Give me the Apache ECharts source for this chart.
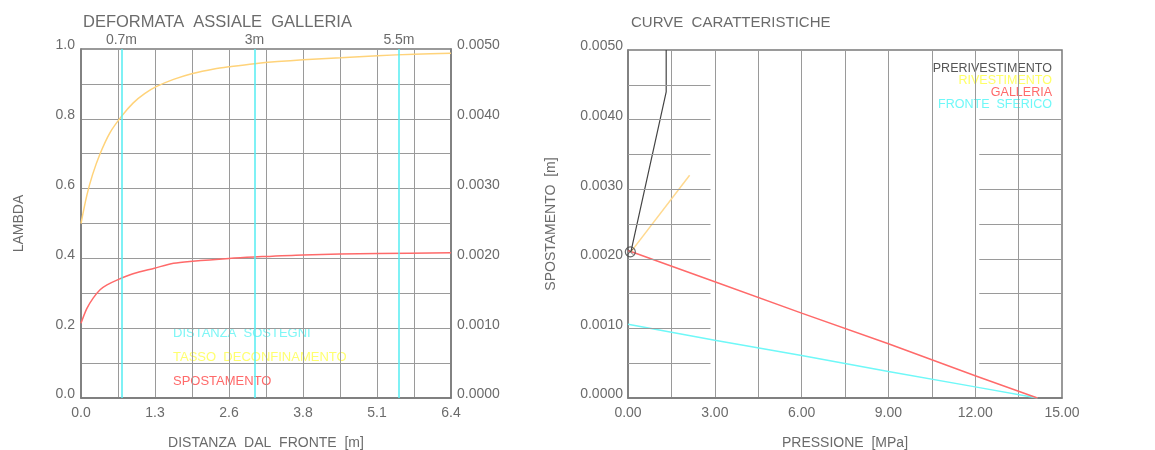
<!DOCTYPE html>
<html>
<head>
<meta charset="utf-8">
<script src="https://cdn.jsdelivr.net/npm/echarts@6/dist/echarts.min.js"></script>
<style>
  html, body { margin: 0; padding: 0; background: #fff; }
  #chart { width: 1155px; height: 450px; }
</style>
</head>
<body>
<div id="chart"></div>
<script>
// deformata assiale: distanza dal fronte [m]
var distanza = [0, 0.1, 0.2, 0.33, 0.5, 0.7, 0.9, 1.1, 1.3, 1.6, 1.93, 2.3, 2.6, 3.0, 3.4, 3.84, 4.49, 5.13, 5.77, 6.4];
var lambda   = [0.50, 0.58, 0.64, 0.70, 0.76, 0.807, 0.845, 0.872, 0.892, 0.913, 0.930, 0.943, 0.950, 0.958, 0.964, 0.969, 0.975, 0.981, 0.985, 0.988];
var distSpost   = [0, 0.1, 0.21, 0.33, 0.45, 0.65, 0.9, 1.27, 1.6, 1.93, 2.56, 3.0, 3.84, 5.13, 6.4];
var spostamento = [0.00107, 0.00128, 0.00143, 0.00155, 0.00162, 0.00170, 0.00178, 0.00186, 0.00193, 0.00196, 0.00200, 0.00202, 0.00205, 0.00207, 0.00208];
var sostegni = [0.7, 3, 5.5];
var sostegniLabel = ['0.7m', '3m', '5.5m'];

// curve caratteristiche: pressione [MPa] / spostamento [m]
var prerivP = [0.1, 1.32, 1.32];
var prerivU = [0.0021, 0.0044, 0.0050];
var rivP = [0.1, 2.13];
var rivU = [0.0021, 0.0032];
var galleriaP = [0, 3, 6, 9, 12, 14.15];
var galleriaU = [0.00212, 0.00167, 0.00122, 0.00078, 0.00032, 0];
var fronteP = [0, 3, 6, 9, 12, 14.15];
var fronteU = [0.00106, 0.00083, 0.00061, 0.00038, 0.00016, 0];
var equilP = [0.08];
var equilU = [0.0021];
var gridU = [0.0005, 0.0010, 0.0015, 0.0020, 0.0025, 0.0030, 0.0035, 0.0040, 0.0045];

function pairs(xs, ys) {
    return xs.map(function (x, i) { return [x, ys[i]]; });
}

var FONT = 'Liberation Sans';
var TXT = '#6b6b6b';
var GRIDC = '#9a9a9a';
var BORDER = '#7a7a7a';

var myChart = echarts.init(document.getElementById('chart'));

// pezzi di griglia orizzontale (interrotta al centro)
var gridSegs = [];
gridU.forEach(function (u, i) {
    gridSegs.push([{ coord: [0, u] }, { coord: [2.85, u] }]);
    if (i < gridU.length - 1) gridSegs.push([{ coord: [12.14, u] }, { coord: [15, u] }]);
});

var axisLbl = { color: TXT, fontFamily: FONT, fontSize: 14 };
var nameStyle = { color: TXT, fontFamily: FONT, fontSize: 14 };
// etichette y leggermente sopra la linea
var yLbl = Object.assign({ verticalAlign: 'bottom', lineHeight: 7 }, axisLbl);

option = {
    animation: false,
    textStyle: { fontFamily: FONT },
    title: [
        { text: 'DEFORMATA  ASSIALE  GALLERIA', left: 78, top: 9,
          textStyle: { color: TXT, fontFamily: FONT, fontWeight: 'normal', fontSize: 16.5 } },
        { text: 'CURVE  CARATTERISTICHE', left: 626, top: 10,
          textStyle: { color: TXT, fontFamily: FONT, fontWeight: 'normal', fontSize: 15 } }
    ],
    grid: [
        { left: 81, top: 49, width: 370, height: 349, show: true, borderColor: BORDER, borderWidth: 1.5,
          outerBoundsMode: 'none', containLabel: false },
        { left: 628, top: 50, width: 434, height: 348, show: true, borderColor: BORDER, borderWidth: 1.5,
          outerBoundsMode: 'none', containLabel: false }
    ],
    xAxis: [
        {
            type: 'value', gridIndex: 0, min: 0, max: 6.4, interval: 0.64,
            name: 'DISTANZA  DAL  FRONTE  [m]', nameLocation: 'middle', nameGap: 38, nameTextStyle: nameStyle,
            axisLine: { lineStyle: { color: BORDER, width: 1.5 } },
            axisTick: { show: false },
            splitLine: { lineStyle: { color: GRIDC, width: 1 } },
            axisLabel: Object.assign({ margin: 8, formatter: function (v) {
                var i = Math.round(v / 0.64);
                return i % 2 ? '' : v.toFixed(1);
            } }, axisLbl)
        },
        {
            type: 'value', gridIndex: 1, min: 0, max: 15, interval: 1.5,
            name: 'PRESSIONE  [MPa]', nameLocation: 'middle', nameGap: 38, nameTextStyle: nameStyle,
            axisLine: { lineStyle: { color: BORDER, width: 1.5 } },
            axisTick: { show: false },
            splitLine: { lineStyle: { color: GRIDC, width: 1 } },
            axisLabel: Object.assign({ margin: 8, formatter: function (v) {
                var i = Math.round(v / 1.5);
                return i % 2 ? '' : v.toFixed(2);
            } }, axisLbl)
        }
    ],
    yAxis: [
        {
            type: 'value', gridIndex: 0, min: 0, max: 1, interval: 0.1,
            name: 'LAMBDA', nameLocation: 'middle', nameGap: 55, nameRotate: 90, nameTextStyle: nameStyle,
            axisLine: { show: true, lineStyle: { color: BORDER, width: 1.5 } },
            axisTick: { show: false },
            splitLine: { lineStyle: { color: GRIDC, width: 1 } },
            axisLabel: Object.assign({ margin: 6, formatter: function (v) {
                var i = Math.round(v / 0.1);
                return i % 2 ? '' : v.toFixed(1);
            } }, yLbl)
        },
        {
            type: 'value', gridIndex: 0, position: 'right', min: 0, max: 0.005, interval: 0.001,
            axisLine: { show: true, lineStyle: { color: BORDER, width: 1.5 } },
            axisTick: { show: false },
            splitLine: { show: false },
            axisLabel: Object.assign({ margin: 6, formatter: function (v) { return v.toFixed(4); } }, yLbl)
        },
        {
            type: 'value', gridIndex: 1, min: 0, max: 0.005, interval: 0.0005,
            name: 'SPOSTAMENTO  [m]', nameLocation: 'middle', nameGap: 70, nameRotate: 90, nameTextStyle: nameStyle,
            axisLine: { show: true, lineStyle: { color: BORDER, width: 1.5 } },
            axisTick: { show: false },
            splitLine: { show: false },
            axisLabel: Object.assign({ margin: 5, formatter: function (v) {
                var i = Math.round(v / 0.0005);
                return i % 2 ? '' : v.toFixed(4);
            } }, yLbl)
        }
    ],
    graphic: [
        { type: 'text', left: 173, top: 327, style: { text: 'DISTANZA  SOSTEGNI', fill: '#7ff6f6', font: '13px ' + FONT } },
        { type: 'text', left: 173, top: 351, style: { text: 'TASSO  DECONFINAMENTO', fill: '#ffff70', font: '13px ' + FONT } },
        { type: 'text', left: 173, top: 375, style: { text: 'SPOSTAMENTO', fill: '#ff6a6a', font: '13px ' + FONT } },
        { type: 'text', right: 103, top: 62, style: { text: 'PRERIVESTIMENTO', fill: '#555', font: '12.5px ' + FONT, align: 'right' } },
        { type: 'text', right: 103, top: 74, style: { text: 'RIVESTIMENTO', fill: '#ffff66', font: '12.5px ' + FONT, align: 'right' } },
        { type: 'text', right: 103, top: 86, style: { text: 'GALLERIA', fill: '#ff6a6a', font: '12.5px ' + FONT, align: 'right' } },
        { type: 'text', right: 103, top: 98, style: { text: 'FRONTE  SFERICO', fill: '#6ff8f8', font: '12.5px ' + FONT, align: 'right' } }
    ],
    series: [
        {
            name: 'distanza sostegni', type: 'line', xAxisIndex: 0, yAxisIndex: 0, data: [],
            markLine: {
                silent: true, symbol: 'none',
                lineStyle: { color: '#55ecf2', width: 1.5, type: 'solid' },
                label: { position: 'end', color: TXT, fontFamily: FONT, fontSize: 14, distance: 2,
                    formatter: function (p) { return sostegniLabel[p.dataIndex]; } },
                data: sostegni.map(function (d) { return { xAxis: d }; })
            }
        },
        {
            name: 'tasso deconfinamento', type: 'line', xAxisIndex: 0, yAxisIndex: 0,
            data: pairs(distanza, lambda), smooth: 0.3, symbol: 'none',
            lineStyle: { color: '#ffd37a', width: 1.5 }
        },
        {
            name: 'spostamento', type: 'line', xAxisIndex: 0, yAxisIndex: 1,
            data: pairs(distSpost, spostamento), smooth: 0.3, symbol: 'none',
            lineStyle: { color: '#ff6a6a', width: 1.5 }
        },
        {
            name: 'griglia', type: 'line', xAxisIndex: 1, yAxisIndex: 2, data: [],
            markLine: { silent: true, symbol: 'none', label: { show: false },
                lineStyle: { color: GRIDC, width: 1, type: 'solid' }, data: gridSegs }
        },
        {
            name: 'fronte sferico', type: 'line', xAxisIndex: 1, yAxisIndex: 2,
            data: pairs(fronteP, fronteU), symbol: 'none',
            lineStyle: { color: '#6ff8f8', width: 1.5 }
        },
        {
            name: 'galleria', type: 'line', xAxisIndex: 1, yAxisIndex: 2,
            data: pairs(galleriaP, galleriaU), symbol: 'none',
            lineStyle: { color: '#ff6a6a', width: 1.5 }
        },
        {
            name: 'rivestimento', type: 'line', xAxisIndex: 1, yAxisIndex: 2,
            data: pairs(rivP, rivU), symbol: 'none',
            lineStyle: { color: '#ffd98f', width: 1.5 }
        },
        {
            name: 'prerivestimento', type: 'line', xAxisIndex: 1, yAxisIndex: 2,
            data: pairs(prerivP, prerivU), symbol: 'none',
            lineStyle: { color: '#444', width: 1.2 }
        },
        {
            name: 'equilibrio', type: 'scatter', xAxisIndex: 1, yAxisIndex: 2, z: 10,
            data: pairs(equilP, equilU), symbol: 'circle', symbolSize: 10,
            itemStyle: { color: 'rgba(0,0,0,0)', borderColor: '#444', borderWidth: 1.2 }
        },
        {
            name: 'equilibrio x', type: 'scatter', xAxisIndex: 1, yAxisIndex: 2, z: 10,
            data: pairs(equilP, equilU), symbol: 'path://M0,0L10,10M10,0L0,10', symbolSize: 6,
            itemStyle: { color: 'rgba(0,0,0,0)', borderColor: '#444', borderWidth: 1 }
        }
    ]
};
myChart.setOption(option);
</script>
</body>
</html>
